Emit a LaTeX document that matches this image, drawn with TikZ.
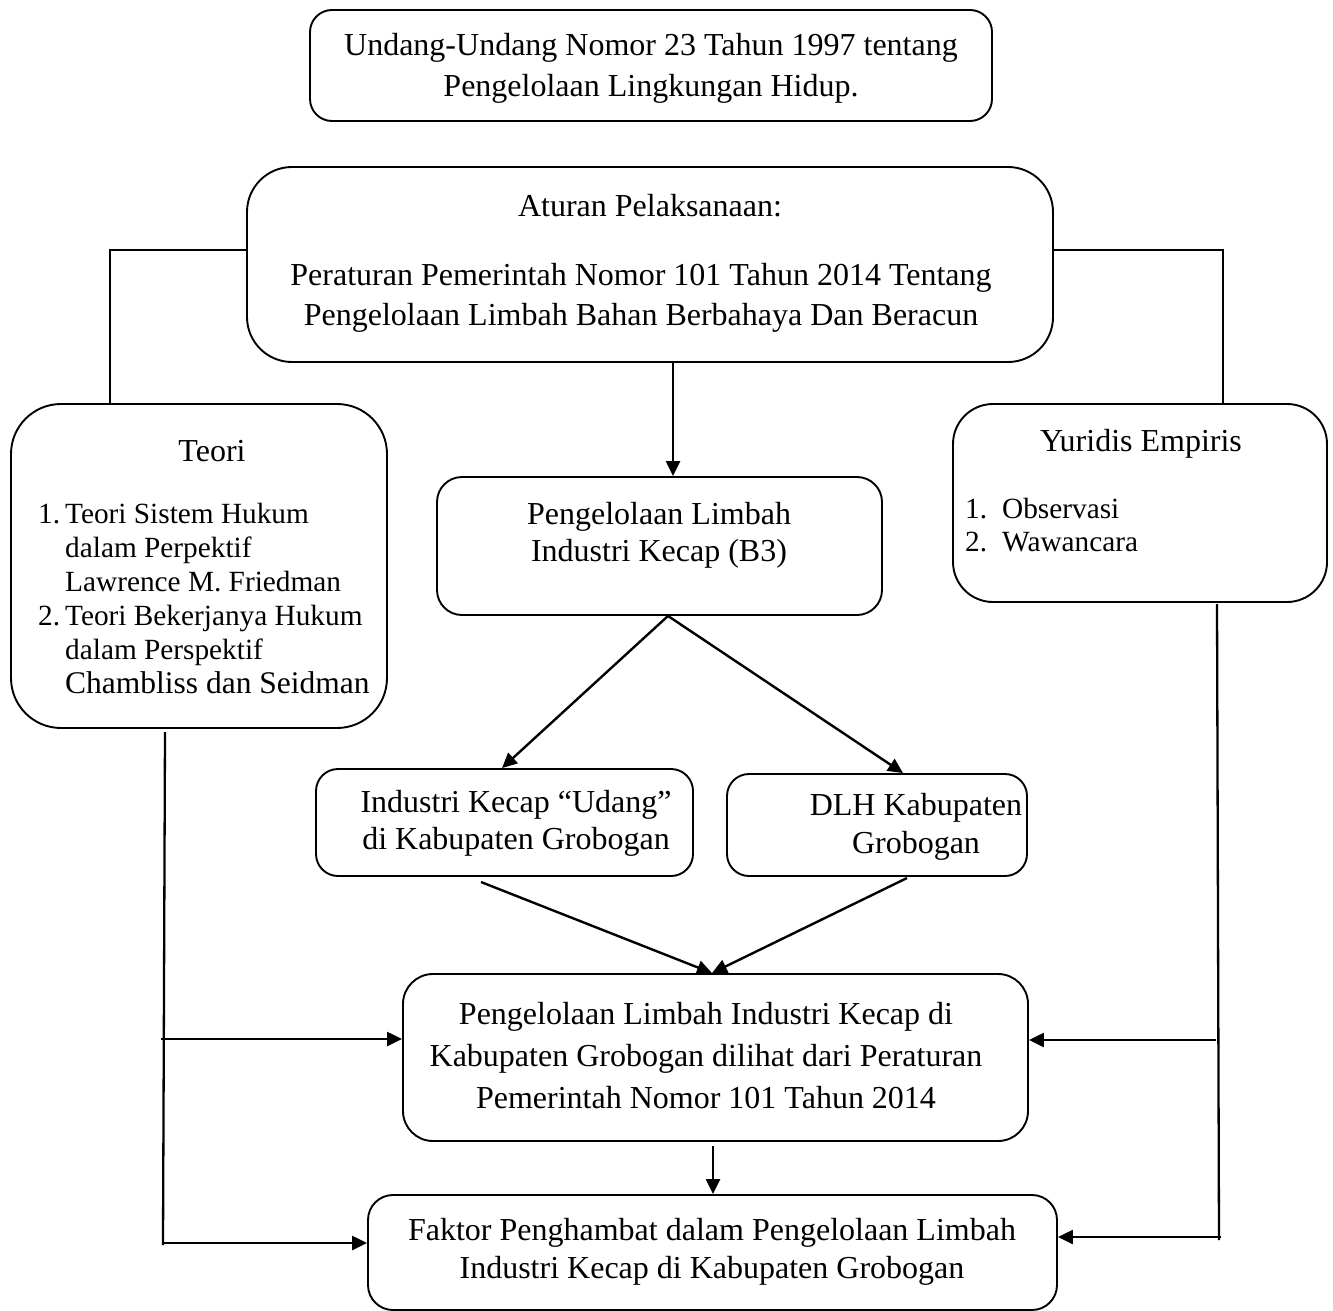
\documentclass[tikz,border=0pt]{standalone}
\usepackage{fontspec}
\setmainfont{Liberation Serif}
\usetikzlibrary{arrows.meta}
\tikzset{
  rbox/.style={draw, line width=1.9pt, rounded corners=#1, inner sep=0pt},
  txt/.style={font=\fontsize{32}{37}\selectfont, align=center, inner sep=0pt},
  ln/.style={line width=2.3pt},
  arr/.style={line width=2.4pt, -{Triangle[length=15pt,width=14pt]}}
}
\begin{document}
\begin{tikzpicture}[x=1pt,y=-1pt]
\useasboundingbox (0,0) rectangle (1333,1311);
% boxes
\node[rbox=22pt, minimum width=682pt, minimum height=111pt] (top) at (651,65.5) {};
\node[rbox=45pt, minimum width=806pt, minimum height=195pt] (atur) at (650,264.5) {};
\node[rbox=50pt, minimum width=376pt, minimum height=324pt] (teori) at (199,566) {};
\node[rbox=40pt, minimum width=374pt, minimum height=198pt] (yur) at (1140,503) {};
\node[rbox=25pt, minimum width=445pt, minimum height=138pt] (b3) at (659.5,546) {};
\node[rbox=22pt, minimum width=377pt, minimum height=107pt] (ind) at (504.5,822.5) {};
\node[rbox=22pt, minimum width=300pt, minimum height=102pt] (dlh) at (877,825) {};
\node[rbox=30pt, minimum width=625pt, minimum height=167pt] (pdi) at (715.5,1057.5) {};
\node[rbox=25pt, minimum width=689pt, minimum height=115pt] (fak) at (712.5,1252.5) {};
% texts
\node[txt, font=\fontsize{32}{41}\selectfont] (topT) at (651,68) {Undang-Undang Nomor 23 Tahun 1997 tentang\\Pengelolaan Lingkungan Hidup.};
\node[txt] (aturT1) at (650,206) {Aturan Pelaksanaan:};
\node[txt, font=\fontsize{32}{40}\selectfont] (aturT2) at (641,298) {Peraturan Pemerintah Nomor 101 Tahun 2014 Tentang\\Pengelolaan Limbah Bahan Berbahaya Dan Beracun};
\node[txt] (teoriT) at (212,451) {Teori};
\node[txt, align=left, anchor=west, font=\fontsize{29.3}{34}\selectfont] (teoriL) at (38,598) {%
\makebox[27pt][l]{1.}Teori Sistem Hukum\\
\hspace*{27pt}dalam Perpektif\\
\hspace*{27pt}Lawrence M. Friedman\\
\makebox[27pt][l]{2.}Teori Bekerjanya Hukum\\
\hspace*{27pt}dalam Perspektif\\
\hspace*{27pt}{\fontsize{31.5}{34}\selectfont Chambliss dan Seidman}};
\node[txt] (yurT) at (1141,444) {Yuridis Empiris};
\node[txt, align=left, anchor=west, font=\fontsize{29.3}{33}\selectfont] (yurL) at (965,525) {%
\makebox[37pt][l]{1.}Observasi\\
\makebox[37pt][l]{2.}Wawancara};
\node[txt] (b3T) at (659,535) {Pengelolaan Limbah\\Industri Kecap (B3)};
\node[txt] (indT) at (516,823) {Industri Kecap “Udang”\\di Kabupaten Grobogan};
\node[txt, font=\fontsize{32}{38}\selectfont] (dlhT) at (916,827) {DLH Kabupaten\\Grobogan};
\node[txt, font=\fontsize{32}{42}\selectfont] (pdiT) at (706,1056) {Pengelolaan Limbah Industri Kecap di\\Kabupaten Grobogan dilihat dari Peraturan\\Pemerintah Nomor 101 Tahun 2014};
\node[txt, font=\fontsize{32}{38}\selectfont] (fakT) at (712,1252) {Faktor Penghambat dalam Pengelolaan Limbah\\Industri Kecap di Kabupaten Grobogan};
% connectors
\draw[ln] (atur.west |- 0,250) -| (110,0 |- teori.north);
\draw[ln] (atur.east |- 0,250) -| (1223,0 |- yur.north);
\draw[arr] (673,0 |- atur.south) -- (673,0 |- b3.north);
\draw[arr] (668,0 |- b3.south) -- (502,0 |- ind.north);
\draw[arr] (668,0 |- b3.south) -- (903,0 |- dlh.north);
\coordinate (indOut) at (481,882);
\coordinate (dlhOut) at (907,878);
\draw[arr] (indOut) -- (712,0 |- pdi.north);
\draw[arr] (dlhOut) -- (712,0 |- pdi.north);
\coordinate (pdiOut) at (713,1146);
\draw[arr] (pdiOut) -- (713,0 |- fak.north);
% left side
\coordinate (lTop) at (165,732);
\coordinate (lBot) at (163,1245);
\draw[ln] (lTop) -- (lBot);
\draw[arr] (161,1039) -- (pdi.west |- 0,1039);
\draw[arr] (163,1243) -- (fak.west |- 0,1243);
% right side
\coordinate (rTop) at (1217,604);
\coordinate (rBot) at (1219,1240);
\draw[ln] (rTop) -- (rBot);
\draw[arr] (1216,1040) -- (pdi.east |- 0,1040);
\draw[arr] (1221,1237) -- (fak.east |- 0,1237);
\end{tikzpicture}
\end{document}
